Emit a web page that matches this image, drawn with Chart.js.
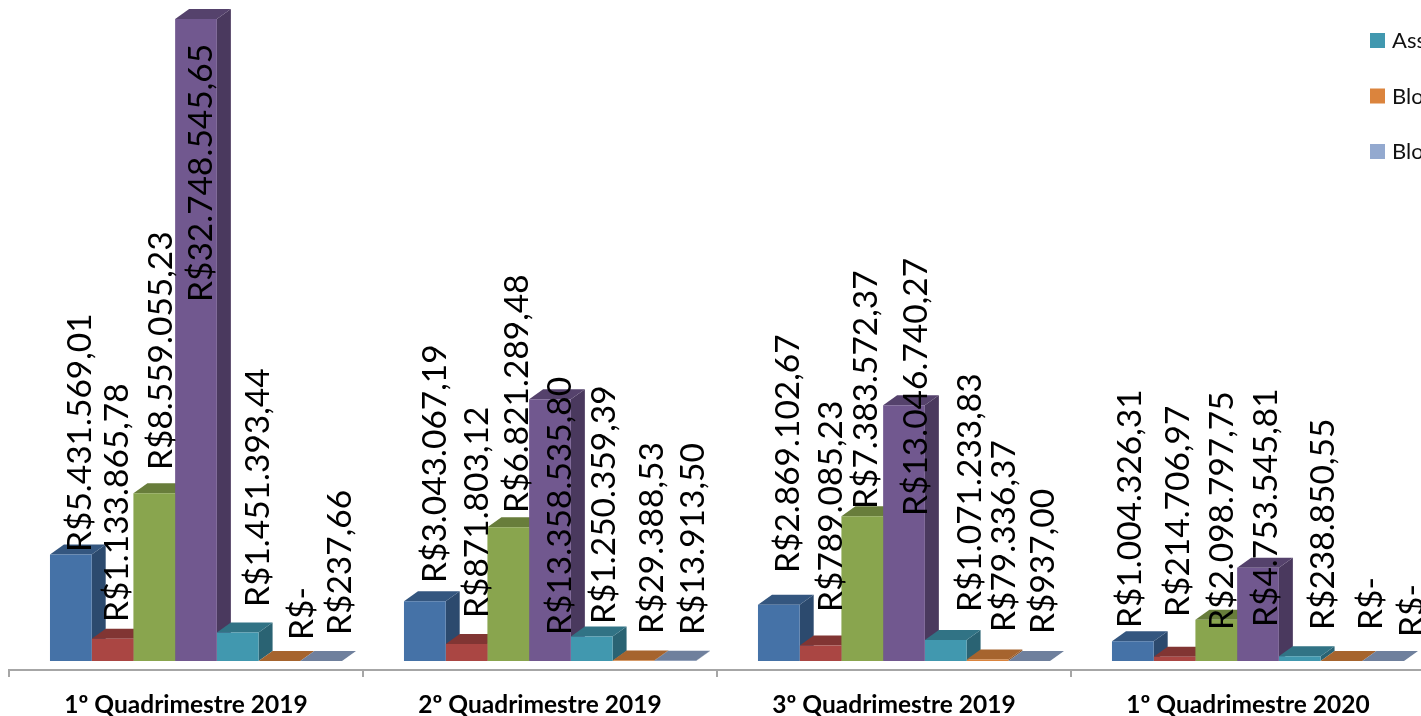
<!DOCTYPE html>
<html lang="pt-BR">
<head>
<meta charset="utf-8">
<title>Quadrimestres</title>
<script src="https://cdn.jsdelivr.net/npm/chart.js@4"></script>
<style>
  html, body { margin: 0; padding: 0; background: #fff; overflow: hidden; }
  #wrap { width: 1440px; height: 716px; position: relative; }
</style>
</head>
<body>
<div id="wrap"><canvas id="chart"></canvas></div>
<script>
const categories = ['1º Quadrimestre 2019', '2º Quadrimestre 2019', '3º Quadrimestre 2019', '1º Quadrimestre 2020'];

const serie1 = [5431569.01, 3043067.19, 2869102.67, 1004326.31];
const serie2 = [1133865.78, 871803.12, 789085.23, 214706.97];
const serie3 = [8559055.23, 6821289.48, 7383572.37, 2098797.75];
const serie4 = [32748545.65, 13358535.80, 13046740.27, 4753545.81];
const serie5 = [1451393.44, 1250359.39, 1071233.83, 238850.55];
const serie6 = [0, 29388.53, 79336.37, 0];
const serie7 = [237.66, 13913.50, 937.00, 0];

// only the start of these names is visible, the page cuts off the rest
const legendNames = ['', '', '', '', 'Ass', 'Blo', 'Blo'];

const frontColors = ['#4572a7', '#aa4643', '#89a54e', '#71588f', '#4198af', '#db843d', '#93a9cf'];
const sideColors = ['#2c4a6e', '#6f2e2c', '#5a6c33', '#4a395e', '#2a6373', '#905628', '#606f88'];
const topColors = ['#34567f', '#813533', '#687d3b', '#55426c', '#317385', '#a6642e', '#6f809d'];

// labels were moved by hand in the original, so each one has its own nudge
const labelShiftX = [
  [9, 10, 9, -3], [5, 11, 11, 4], [7, 9, 4, 6], [5, 10, 12, 8],
  [20, 12, 24, 23], [23, 19, 17, 30], [19, 18, 14, 29]
];
const labelLift = [
  [109, 78, 88, 33], [39, 43, 49, 44], [191, 148, 152, 31], [359, 26, 145, 34],
  [54, 37, 49, 31], [21, 27, 29, 31], [26, 26, 27, 24]
];

const DEPTH_X = 14;
const DEPTH_Y = 10;
const FRONT_SHIFT = 10; // the 3D box is centred on the category, not the front faces

const formatBRL = (value) => {
  if (!value) return 'R$-';
  const [whole, cents] = value.toFixed(2).split('.');
  return `R$${whole.replace(/\B(?=(\d{3})+$)/g, '.')},${cents}`;
};

const fillShape = (ctx, color, points) => {
  ctx.fillStyle = color;
  ctx.beginPath();
  points.forEach(([x, y], i) => (i ? ctx.lineTo(x, y) : ctx.moveTo(x, y)));
  ctx.closePath();
  ctx.fill();
};

// side and top faces go under the fronts, left to right
const depthFaces = {
  id: 'depthFaces',
  afterDatasetsUpdate(chart) {
    chart.data.datasets.forEach((ds, s) => {
      chart.getDatasetMeta(s).data.forEach((bar) => { bar.x += FRONT_SHIFT; });
    });
  },
  beforeDatasetsDraw(chart) {
    const { ctx } = chart;
    categories.forEach((_, c) => {
      chart.data.datasets.forEach((ds, s) => {
        const bar = chart.getDatasetMeta(s).data[c];
        const half = bar.width / 2;
        const left = bar.x - half;
        const right = bar.x + half;
        fillShape(ctx, sideColors[s], [
          [right, bar.y], [right + DEPTH_X, bar.y - DEPTH_Y],
          [right + DEPTH_X, bar.base - DEPTH_Y], [right, bar.base]
        ]);
        fillShape(ctx, topColors[s], [
          [left, bar.y], [left + DEPTH_X, bar.y - DEPTH_Y],
          [right + DEPTH_X, bar.y - DEPTH_Y], [right, bar.y]
        ]);
      });
    });
  }
};

const barLabels = {
  id: 'barLabels',
  afterDatasetsDraw(chart) {
    const { ctx } = chart;
    ctx.save();
    ctx.font = '33.5px Lato';
    ctx.fillStyle = '#000';
    ctx.textAlign = 'left';
    ctx.textBaseline = 'middle';
    chart.data.datasets.forEach((ds, s) => {
      chart.getDatasetMeta(s).data.forEach((bar, c) => {
        ctx.save();
        ctx.translate(bar.x + labelShiftX[s][c], bar.base - labelLift[s][c]);
        ctx.rotate(-Math.PI / 2);
        ctx.fillText(formatBRL(ds.data[c]), 0, 0);
        ctx.restore();
      });
    });
    ctx.restore();
  }
};

const sideLegend = {
  id: 'sideLegend',
  afterDraw(chart) {
    const { ctx } = chart;
    ctx.save();
    ctx.font = '22px Lato';
    ctx.textBaseline = 'middle';
    let y = 33;
    legendNames.forEach((name, s) => {
      if (!name) return;
      ctx.fillStyle = frontColors[s];
      ctx.fillRect(1370, y, 15, 15);
      ctx.fillStyle = '#111';
      ctx.fillText(name, 1392, y + 8);
      y += 55.5;
    });
    ctx.restore();
  }
};

const seriesValues = [serie1, serie2, serie3, serie4, serie5, serie6, serie7];

new Chart(document.getElementById('chart'), {
  type: 'bar',
  data: {
    labels: categories,
    datasets: seriesValues.map((data, s) => ({
      label: legendNames[s],
      data,
      backgroundColor: frontColors[s],
      barPercentage: 1,
      categoryPercentage: 0.825
    }))
  },
  options: {
    responsive: true,
    maintainAspectRatio: false,
    animation: false,
    layout: { padding: { left: 9, right: 15, top: 0, bottom: 0 } },
    plugins: { legend: { display: false }, tooltip: { enabled: false } },
    scales: {
      x: {
        afterFit: (scale) => { scale.height = 46; },
        grid: { drawOnChartArea: false, color: '#a6a6a6', lineWidth: 2, tickLength: 7 },
        border: { color: '#a6a6a6', width: 2 },
        ticks: {
          color: '#000',
          padding: 13,
          maxRotation: 0,
          font: { family: 'Lato', size: 24.5, weight: 'bold' }
        }
      },
      y: {
        display: false,
        min: -459000,
        max: 33720000
      }
    }
  },
  plugins: [depthFaces, barLabels, sideLegend]
});
</script>
</body>
</html>
